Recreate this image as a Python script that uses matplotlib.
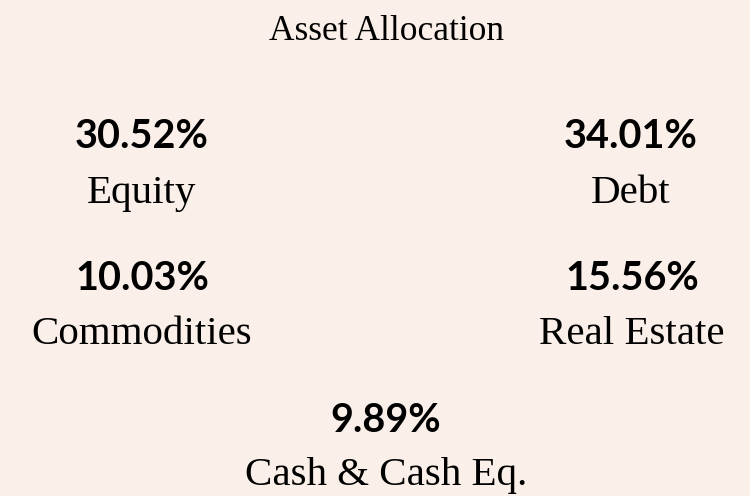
import matplotlib
matplotlib.use("Agg")
import matplotlib.pyplot as plt

title = "Asset Allocation"
categories = ["Equity", "Debt", "Commodities", "Real Estate", "Cash & Cash Eq."]
values = [30.52, 34.01, 10.03, 15.56, 9.89]

# layout: (x_px, value baseline px, label baseline px)
W, H = 750, 496
positions = [(142, 148, 203), (631, 148, 203), (142, 290, 344),
             (632, 290, 344), (386, 432, 485)]

bg = "#FBF0E9"
fig = plt.figure(figsize=(W / 100, H / 100), dpi=100, facecolor=bg)

fig.text(386 / W, 1 - 40 / H, title, ha="center", va="baseline",
         fontsize=25.5, family="Liberation Serif", color="black")

for (x, yv, yl), cat, val in zip(positions, categories, values):
    fig.text(x / W, 1 - yv / H, f"{val:.2f}%", ha="center", va="baseline",
             fontsize=28.5, family="Lato", weight="bold", color="black")
    fig.text(x / W, 1 - yl / H, cat, ha="center", va="baseline",
             fontsize=29.5, family="Liberation Serif", color="black")

fig.savefig("out.png", dpi=100, facecolor=bg)
